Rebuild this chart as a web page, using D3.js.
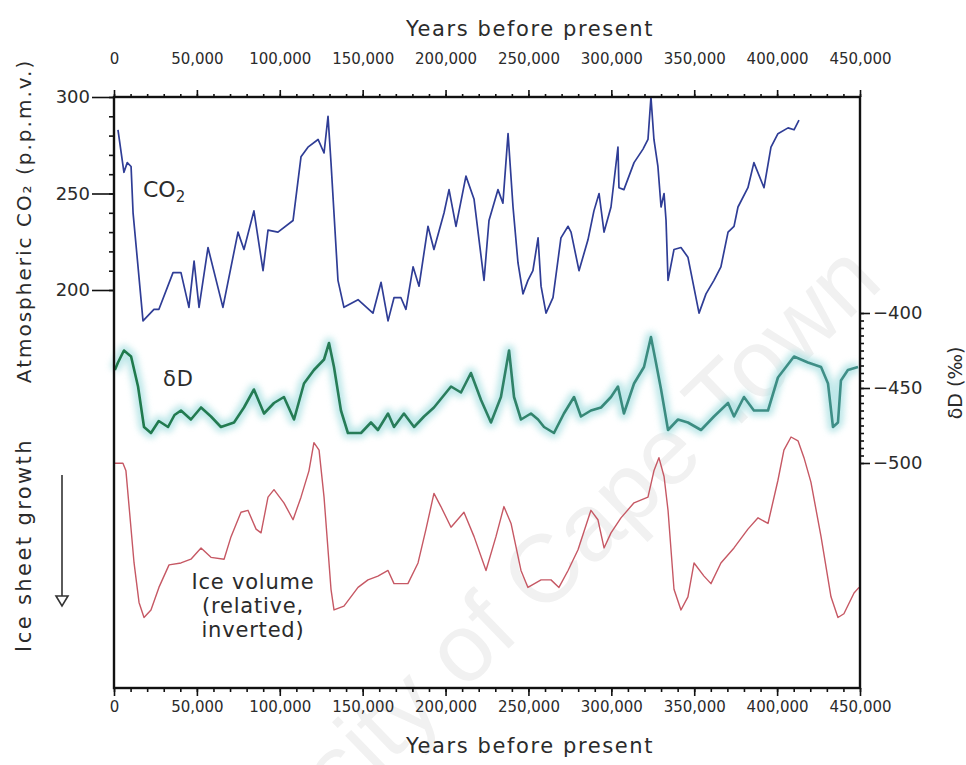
<!DOCTYPE html>
<html>
<head>
<meta charset="utf-8">
<script src="https://cdn.jsdelivr.net/npm/d3@7"></script>
<style>
body { margin: 0; background: #fff; }
svg text { font-family: "DejaVu Sans", sans-serif; fill: #2b2b2b; }
</style>
</head>
<body>
<script>
// ages are in thousands of years before present
var co2Age = [2.4, 6.0, 8.0, 10.3, 11.5, 17.5, 24.1, 27.1, 35.6, 40.4, 45.2, 48.3, 51.3, 56.7, 65.7, 74.8, 78.4, 84.4, 89.9, 92.9, 98.9, 108.0, 112.8, 117.0, 123.1, 126.7, 129.1, 130.9, 135.1, 138.7, 147.2, 156.2, 161.1, 165.3, 168.9, 173.1, 176.1, 180.4, 184.0, 189.4, 193.0, 199.1, 202.1, 206.3, 212.3, 217.2, 220.2, 223.2, 226.2, 231.6, 234.6, 237.7, 240.7, 243.7, 246.7, 249.7, 252.7, 255.8, 257.6, 260.6, 264.8, 269.6, 273.9, 275.7, 280.5, 285.9, 289.5, 292.6, 295.6, 299.8, 304.0, 304.6, 307.6, 313.7, 319.1, 322.1, 323.9, 325.7, 328.1, 330.0, 331.8, 333.0, 334.2, 337.8, 342.0, 346.2, 352.9, 357.1, 361.9, 366.1, 370.4, 374.0, 376.4, 382.4, 386.0, 392.1, 396.3, 400.5, 406.6, 410.2, 413.2]
var co2Val = [283, 261, 266, 264, 240, 184, 190, 190, 209, 209, 191, 215, 191, 222, 191, 230, 221, 241, 210, 231, 230, 236, 269, 274, 278, 271, 290, 266, 205, 191, 195, 188, 204, 184, 196, 196, 190, 212, 202, 233, 221, 240, 252, 233, 259, 247, 226, 205, 236, 252, 245, 281, 243, 214, 198, 205, 210, 227, 202, 188, 196, 227, 233, 230, 210, 226, 241, 250, 230, 243, 274, 253, 252, 266, 273, 278, 300, 278, 264, 243, 250, 236, 205, 221, 222, 217, 188, 198, 205, 212, 230, 233, 243, 253, 266, 253, 274, 281, 284, 283, 288]

var dDAge = [0.5, 2.4, 6.0, 10.3, 14.5, 18.1, 22.3, 27.0, 32.6, 36.5, 40.4, 46.4, 52.5, 58.5, 64.5, 72.4, 78.4, 84.4, 90.5, 96.5, 102.5, 108.6, 114.6, 120.6, 126.7, 129.7, 132.7, 136.9, 141.1, 149.0, 155.0, 159.2, 165.3, 168.9, 174.9, 181.0, 187.0, 193.0, 203.3, 209.3, 215.3, 221.4, 227.4, 233.4, 238.3, 241.3, 245.5, 251.5, 255.8, 259.4, 265.4, 271.4, 277.5, 281.7, 287.7, 293.8, 299.8, 304.0, 307.6, 313.7, 319.7, 323.9, 326.9, 330.0, 334.2, 340.2, 346.2, 354.1, 361.9, 370.4, 374.0, 380.0, 386.0, 394.5, 400.5, 410.2, 418.6, 426.5, 430.7, 433.7, 436.7, 438.5, 442.7, 448.8]
var dDVal = [-438, -433, -425, -429, -449, -476, -480, -472, -476, -468, -465, -471, -463, -469, -476, -473, -463, -451, -467, -460, -456, -471, -447, -438, -431, -420, -436, -465, -480, -480, -473, -478, -467, -476, -467, -476, -469, -463, -449, -453, -440, -458, -473, -456, -425, -456, -471, -467, -471, -476, -480, -467, -456, -469, -465, -463, -456, -449, -467, -447, -436, -416, -433, -451, -478, -471, -473, -478, -469, -460, -469, -456, -465, -465, -443, -429, -433, -436, -447, -476, -473, -445, -438, -436]

// relative ice volume, plotted inverted (0 = least ice, 100 = most ice)
var iceAge = [0, 5.4, 7.2, 12.1, 15.1, 18.1, 22.3, 27.1, 33.2, 40.4, 46.4, 52.5, 58.5, 66.4, 70.6, 76.6, 80.8, 85.7, 88.7, 92.9, 96.5, 102.5, 108.0, 112.8, 117.6, 120.6, 123.7, 126.7, 130.9, 132.7, 138.7, 147.2, 153.2, 159.2, 165.3, 168.9, 177.3, 183.4, 188.2, 193.0, 197.2, 203.3, 211.1, 217.2, 224.4, 230.4, 235.2, 239.5, 245.5, 249.7, 257.6, 263.6, 268.4, 273.9, 279.9, 287.7, 291.9, 295.6, 299.8, 305.8, 313.7, 322.1, 325.7, 328.7, 331.8, 334.2, 337.8, 342.0, 346.2, 349.9, 355.9, 360.1, 366.1, 374.0, 382.4, 388.5, 394.5, 400.5, 404.1, 408.4, 412.6, 416.2, 420.4, 426.5, 432.5, 436.7, 440.3, 446.4, 449.4]
var iceVal = [14, 14, 18, 67, 88, 96, 92, 80, 68, 67, 65, 59, 64, 65, 53, 40, 39, 49, 51, 32, 28, 35, 44, 32, 18, 3, 7, 32, 81, 92, 90, 80, 76, 74, 71, 78, 78, 67, 49, 30, 37, 48, 40, 53, 71, 53, 37, 46, 71, 80, 76, 76, 80, 71, 60, 39, 44, 59, 51, 43, 35, 32, 18, 11, 21, 39, 81, 92, 85, 67, 74, 78, 67, 59, 49, 43, 46, 23, 7, 0, 2, 11, 24, 53, 85, 96, 94, 83, 80]

var xMajor = [0, 50, 100, 150, 200, 250, 300, 350, 400, 450]
var co2Major = [200, 250, 300]
var dDMajor = [-400, -450, -500]

var W = 966, H = 765
var svg = d3.select("body").append("svg").attr("width", W).attr("height", H)

// plot frame edges
var fx0 = 114, fx1 = 860, fy0 = 97, fy1 = 688

var x = d3.scaleLinear().domain([0, 450]).range([fx0, fx1])
var yCO2 = d3.scaleLinear().domain([200, 300]).range([290, fy0])
var yD = d3.scaleLinear().domain([-500, -400]).range([463, 313])
var yIce = d3.scaleLinear().domain([0, 100]).range([437, 625])

var fmtYears = function(d) { return d3.format(",")(d * 1000) }

// glow for the deuterium curve
var defs = svg.append("defs")
defs.append("filter").attr("id", "glow").attr("x", "-5%").attr("y", "-50%").attr("width", "110%").attr("height", "200%")
	.append("feGaussianBlur").attr("stdDeviation", 3)
var grad = defs.append("linearGradient").attr("id", "dDcol").attr("gradientUnits", "userSpaceOnUse")
	.attr("x1", fx0).attr("x2", fx1).attr("y1", 0).attr("y2", 0)
grad.append("stop").attr("offset", "0%").attr("stop-color", "#1f7a4c")
grad.append("stop").attr("offset", "45%").attr("stop-color", "#2a7d5c")
grad.append("stop").attr("offset", "70%").attr("stop-color", "#3b8c80")
grad.append("stop").attr("offset", "100%").attr("stop-color", "#3f8f88")

// watermark
svg.append("text")
	.attr("transform", "translate(885,285) rotate(-44)")
	.attr("text-anchor", "end")
	.style("font-family", "'Liberation Sans', Arial, sans-serif")
	.style("font-size", "96px")
	.style("fill", "#f1f1f1")
	.text("University of Cape Town")

// curves
var line = function(ages, vals, y) {
	return d3.line().x(function(d, i) { return x(ages[i]) }).y(function(d, i) { return y(vals[i]) })(vals)
}

svg.append("path").attr("d", line(dDAge, dDVal, yD))
	.attr("fill", "none").attr("stroke", "#a9e0e2").attr("stroke-width", 11)
	.attr("stroke-linejoin", "round").attr("opacity", 0.75).attr("filter", "url(#glow)")
svg.append("path").attr("d", line(dDAge, dDVal, yD))
	.attr("fill", "none").attr("stroke", "url(#dDcol)").attr("stroke-width", 2.6).attr("stroke-linejoin", "round")

svg.append("path").attr("d", line(co2Age, co2Val, yCO2))
	.attr("fill", "none").attr("stroke", "#2f3d96").attr("stroke-width", 1.7).attr("stroke-linejoin", "round")

svg.append("path").attr("d", line(iceAge, iceVal, yIce))
	.attr("fill", "none").attr("stroke", "#c65864").attr("stroke-width", 1.4).attr("stroke-linejoin", "round")

// frame
svg.append("rect").attr("x", fx0).attr("y", fy0).attr("width", fx1 - fx0).attr("height", fy1 - fy0)
	.attr("fill", "none").attr("stroke", "#111").attr("stroke-width", 2.4)

function styleAxis(g, size) {
	g.select(".domain").remove()
	g.selectAll("line").attr("stroke", "#111").attr("stroke-width", 1.6)
	g.attr("font-size", size)
}

// top x axis
svg.append("g").attr("transform", "translate(0," + fy0 + ")")
	.call(d3.axisTop(x).tickValues(d3.range(0, 451, 10)).tickSize(3).tickFormat(""))
	.call(styleAxis, 15)
svg.append("g").attr("transform", "translate(0," + fy0 + ")")
	.call(d3.axisTop(x).tickValues(xMajor).tickSize(7).tickPadding(26).tickFormat(fmtYears))
	.call(styleAxis, 15)

// bottom x axis
svg.append("g").attr("transform", "translate(0," + fy1 + ")")
	.call(d3.axisBottom(x).tickValues(d3.range(0, 451, 10)).tickSize(4).tickFormat(""))
	.call(styleAxis, 15)
svg.append("g").attr("transform", "translate(0," + fy1 + ")")
	.call(d3.axisBottom(x).tickValues(xMajor).tickSize(8).tickPadding(5).tickFormat(fmtYears))
	.call(styleAxis, 15)

// left CO2 axis
svg.append("g").attr("transform", "translate(" + fx0 + ",0)")
	.call(d3.axisLeft(yCO2).tickValues(d3.range(200, 301, 10)).tickSize(5).tickFormat(""))
	.call(styleAxis, 18)
svg.append("g").attr("transform", "translate(" + fx0 + ",0)")
	.call(d3.axisLeft(yCO2).tickValues(co2Major).tickSize(22).tickPadding(2))
	.call(styleAxis, 18)

// right deuterium axis
svg.append("g").attr("transform", "translate(" + fx1 + ",0)")
	.call(d3.axisRight(yD).tickValues(d3.range(-500, -399, 5)).tickSize(4).tickFormat(""))
	.call(styleAxis, 18)
svg.append("g").attr("transform", "translate(" + fx1 + ",0)")
	.call(d3.axisRight(yD).tickValues(dDMajor).tickSize(10).tickPadding(3))
	.call(styleAxis, 18)

// axis titles
svg.append("text").attr("x", 530).attr("y", 36).attr("text-anchor", "middle")
	.style("font-size", "21px").style("letter-spacing", "1.6px").text("Years before present")
svg.append("text").attr("x", 530).attr("y", 753).attr("text-anchor", "middle")
	.style("font-size", "21px").style("letter-spacing", "1.6px").text("Years before present")

svg.append("text").attr("transform", "translate(31,221) rotate(-90)").attr("text-anchor", "middle")
	.style("font-size", "20px").style("letter-spacing", "2px")
	.text("Atmospheric CO\u2082 (p.p.m.v.)")
svg.append("text").attr("transform", "translate(31,545) rotate(-90)").attr("text-anchor", "middle")
	.style("font-size", "21px").style("letter-spacing", "2.4px")
	.text("Ice sheet growth")
svg.append("text").attr("transform", "translate(962,383) rotate(-90)").attr("text-anchor", "middle")
	.style("font-size", "19px").text("\u03b4D (\u2030)")

// ice growth arrow
svg.append("line").attr("x1", 62).attr("x2", 62).attr("y1", 475).attr("y2", 596)
	.attr("stroke", "#333").attr("stroke-width", 1.6)
svg.append("path").attr("d", "M56,596 L68,596 L62,606 Z")
	.attr("fill", "#fff").attr("stroke", "#333").attr("stroke-width", 1.6)

// series labels
svg.append("text").attr("x", 143).attr("y", 197).style("font-size", "22px")
	.html("CO<tspan baseline-shift='-30%' font-size='15px'>2</tspan>")
svg.append("text").attr("x", 163).attr("y", 386).style("font-size", "21px").style("letter-spacing", "1px").text("\u03b4D")
var iceLab = ["Ice volume", "(relative,", "inverted)"]
svg.selectAll(".icelab").data(iceLab).enter().append("text").attr("class", "icelab")
	.attr("x", 253).attr("y", function(d, i) { return 589 + i * 24 })
	.attr("text-anchor", "middle").style("font-size", "21px").style("letter-spacing", "0.8px")
	.text(function(d) { return d })
</script>
</body>
</html>
